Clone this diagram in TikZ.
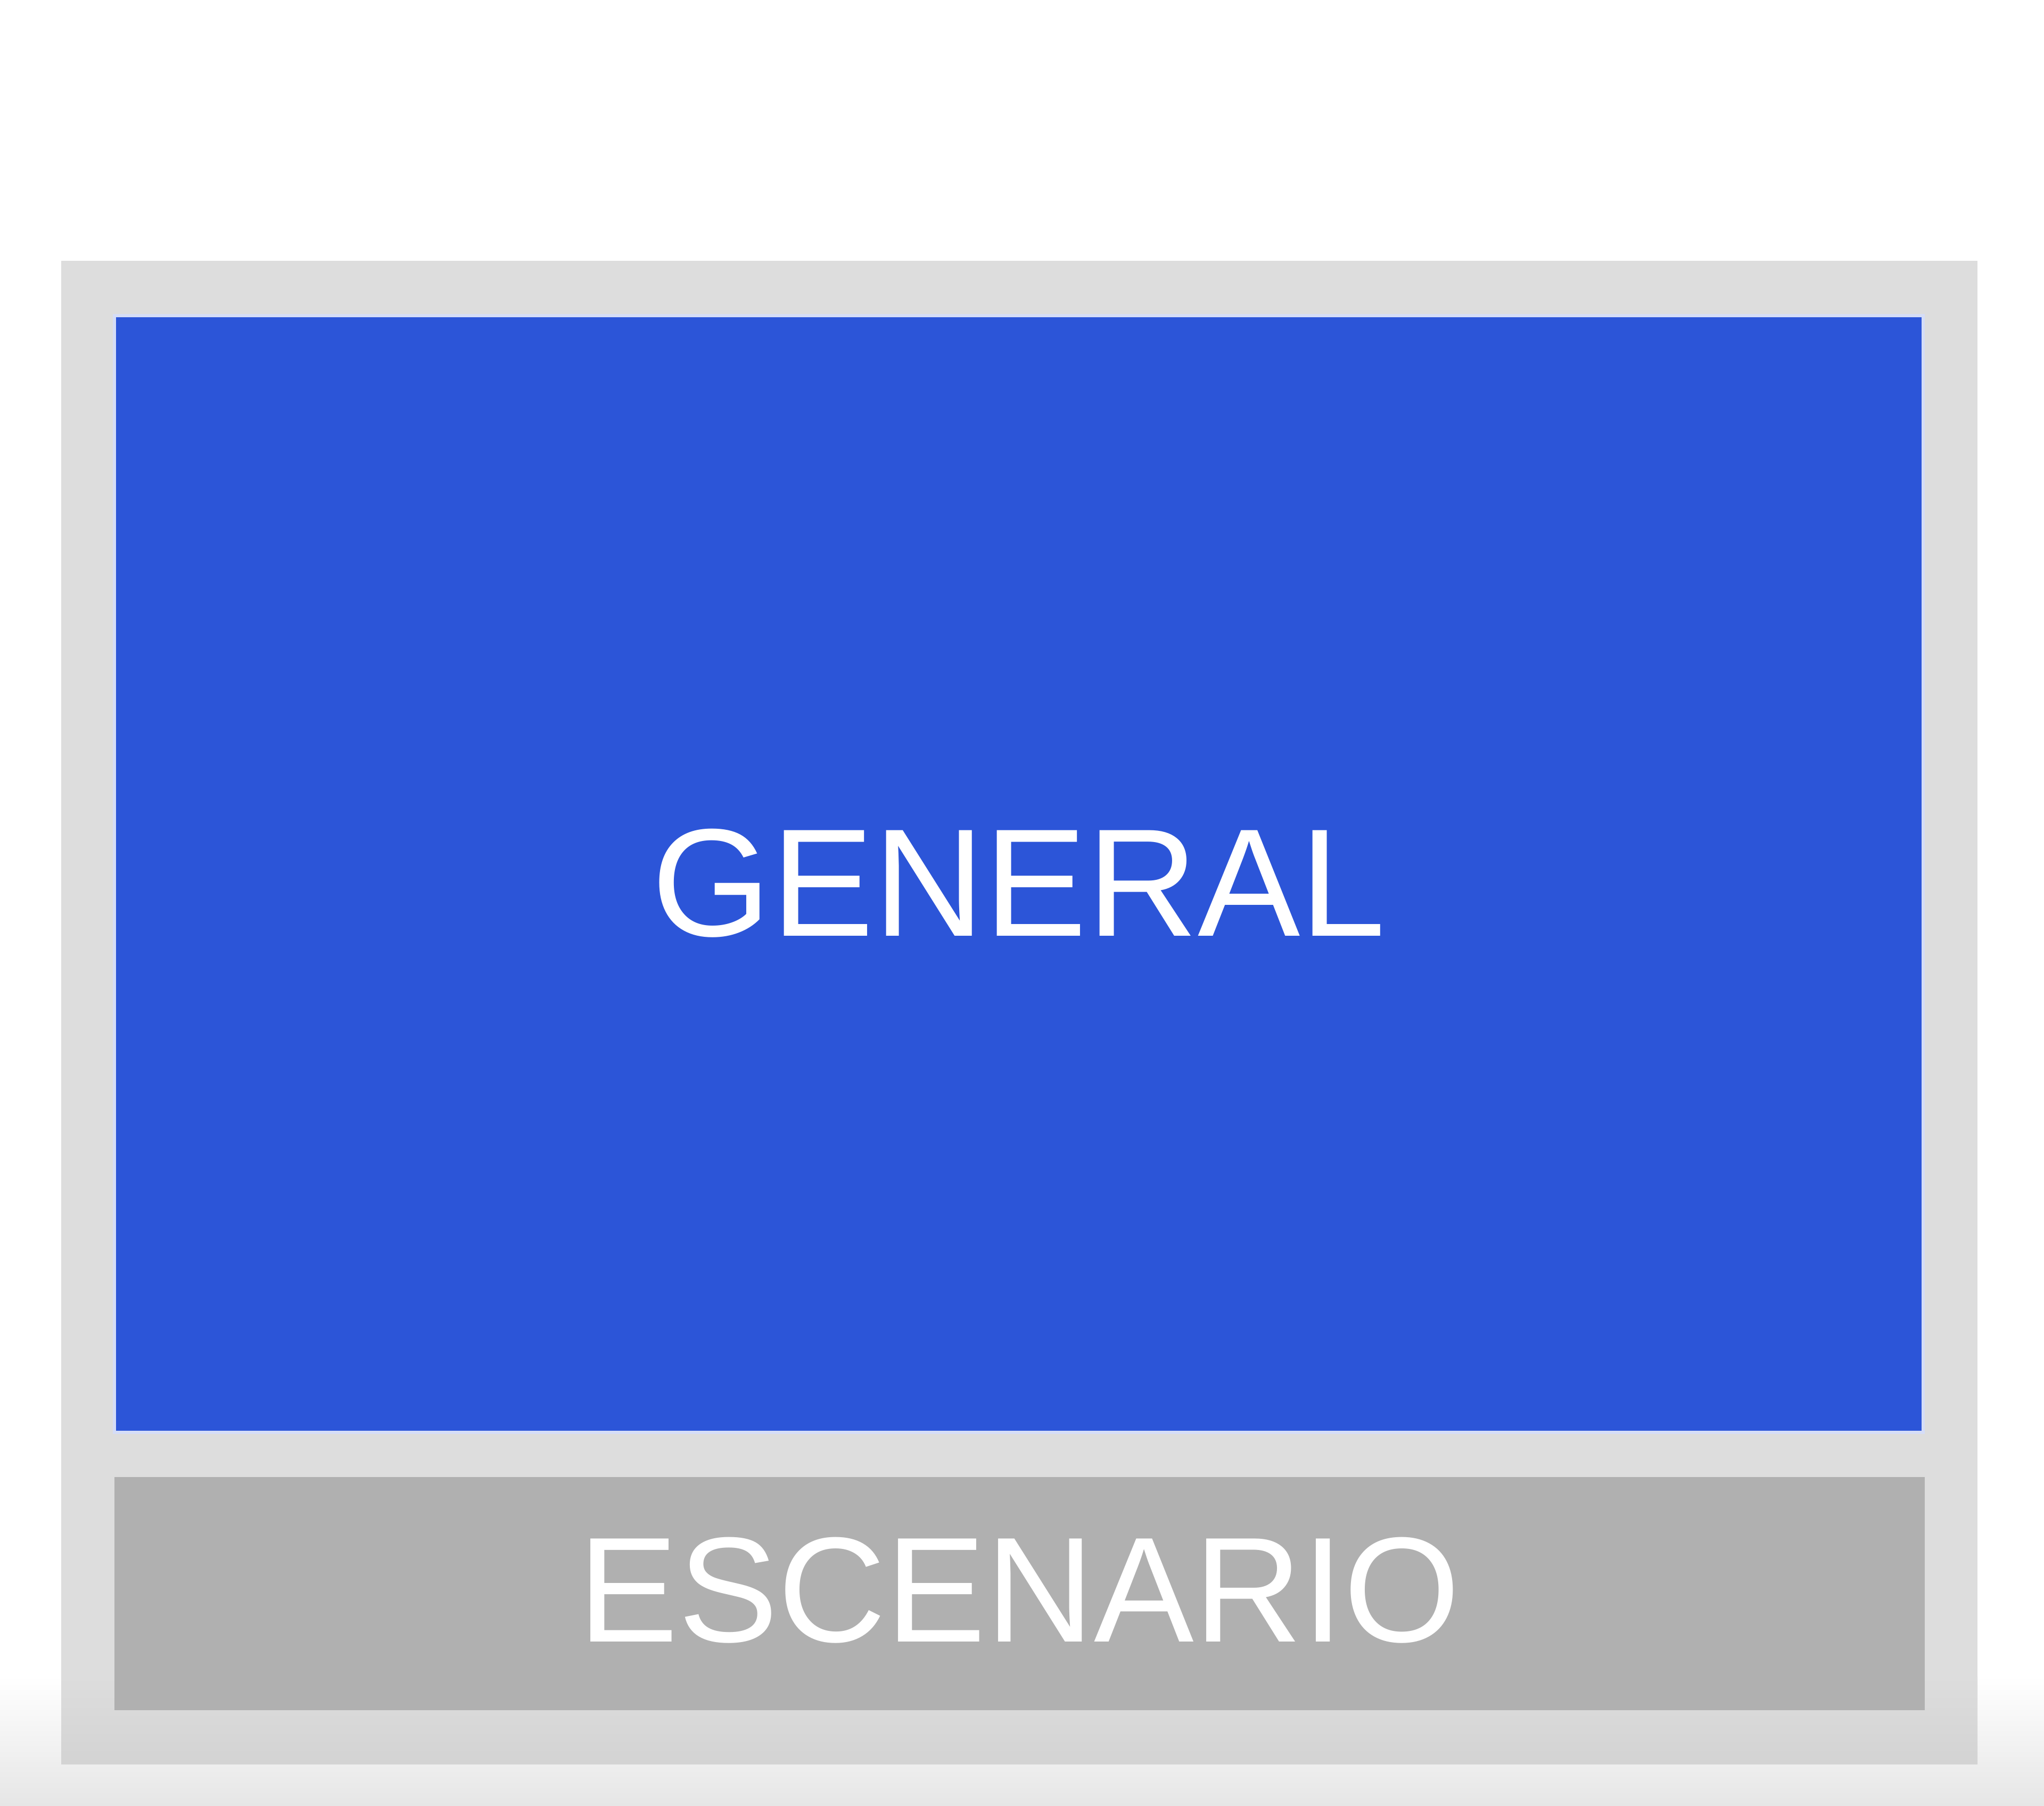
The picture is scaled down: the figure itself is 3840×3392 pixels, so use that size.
\documentclass[tikz,border=0pt]{standalone}
\usepackage{fontspec}
\setmainfont{Liberation Sans}
\definecolor{marco}{HTML}{DDDDDD}
\definecolor{marcobajo}{HTML}{D3D3D3}
\definecolor{azulgeneral}{HTML}{2C55D8}
\definecolor{grisescenario}{HTML}{B0B0B0}
\definecolor{fondobajo}{HTML}{E6E6E6}
\tikzset{
  rotulo/.style={text=white, inner sep=0pt, font=\fontsize{82}{98}\selectfont},
  zona/.style={draw=none}
}
\begin{document}
\begin{tikzpicture}[x=0.01cm, y=0.01cm]  % 1 unidad = 1 pixel

    % fondo y degradado inferior
    \useasboundingbox (0,0) rectangle (3840,3392);
    \fill[white] (0,0) rectangle (3840,3392);
    \shade[top color=white, bottom color=fondobajo] (0,0) rectangle (3840,242);

    % marco exterior
    \fill[marco] (115,78) rectangle (3715,2902);
    \shade[top color=marco, bottom color=marcobajo] (115,78) rectangle (3715,242); % sombra inferior

    % zona general
    \filldraw[zona, fill=azulgeneral] (215,701) rectangle (3613,2799);
    \draw[white!80!azulgeneral, line width=1.5pt] (215,701) rectangle (3613,2799);

    % zona escenario
    \filldraw[zona, fill=grisescenario] (215,179) rectangle (3616,617);

    % rotulos
    \node[rotulo] (general) at (1914,1733) {GENERAL};
    \node[rotulo, font=\fontsize{80}{96}\selectfont] (escenario) at (1915,404) {ESCENARIO};

\end{tikzpicture}
\end{document}
